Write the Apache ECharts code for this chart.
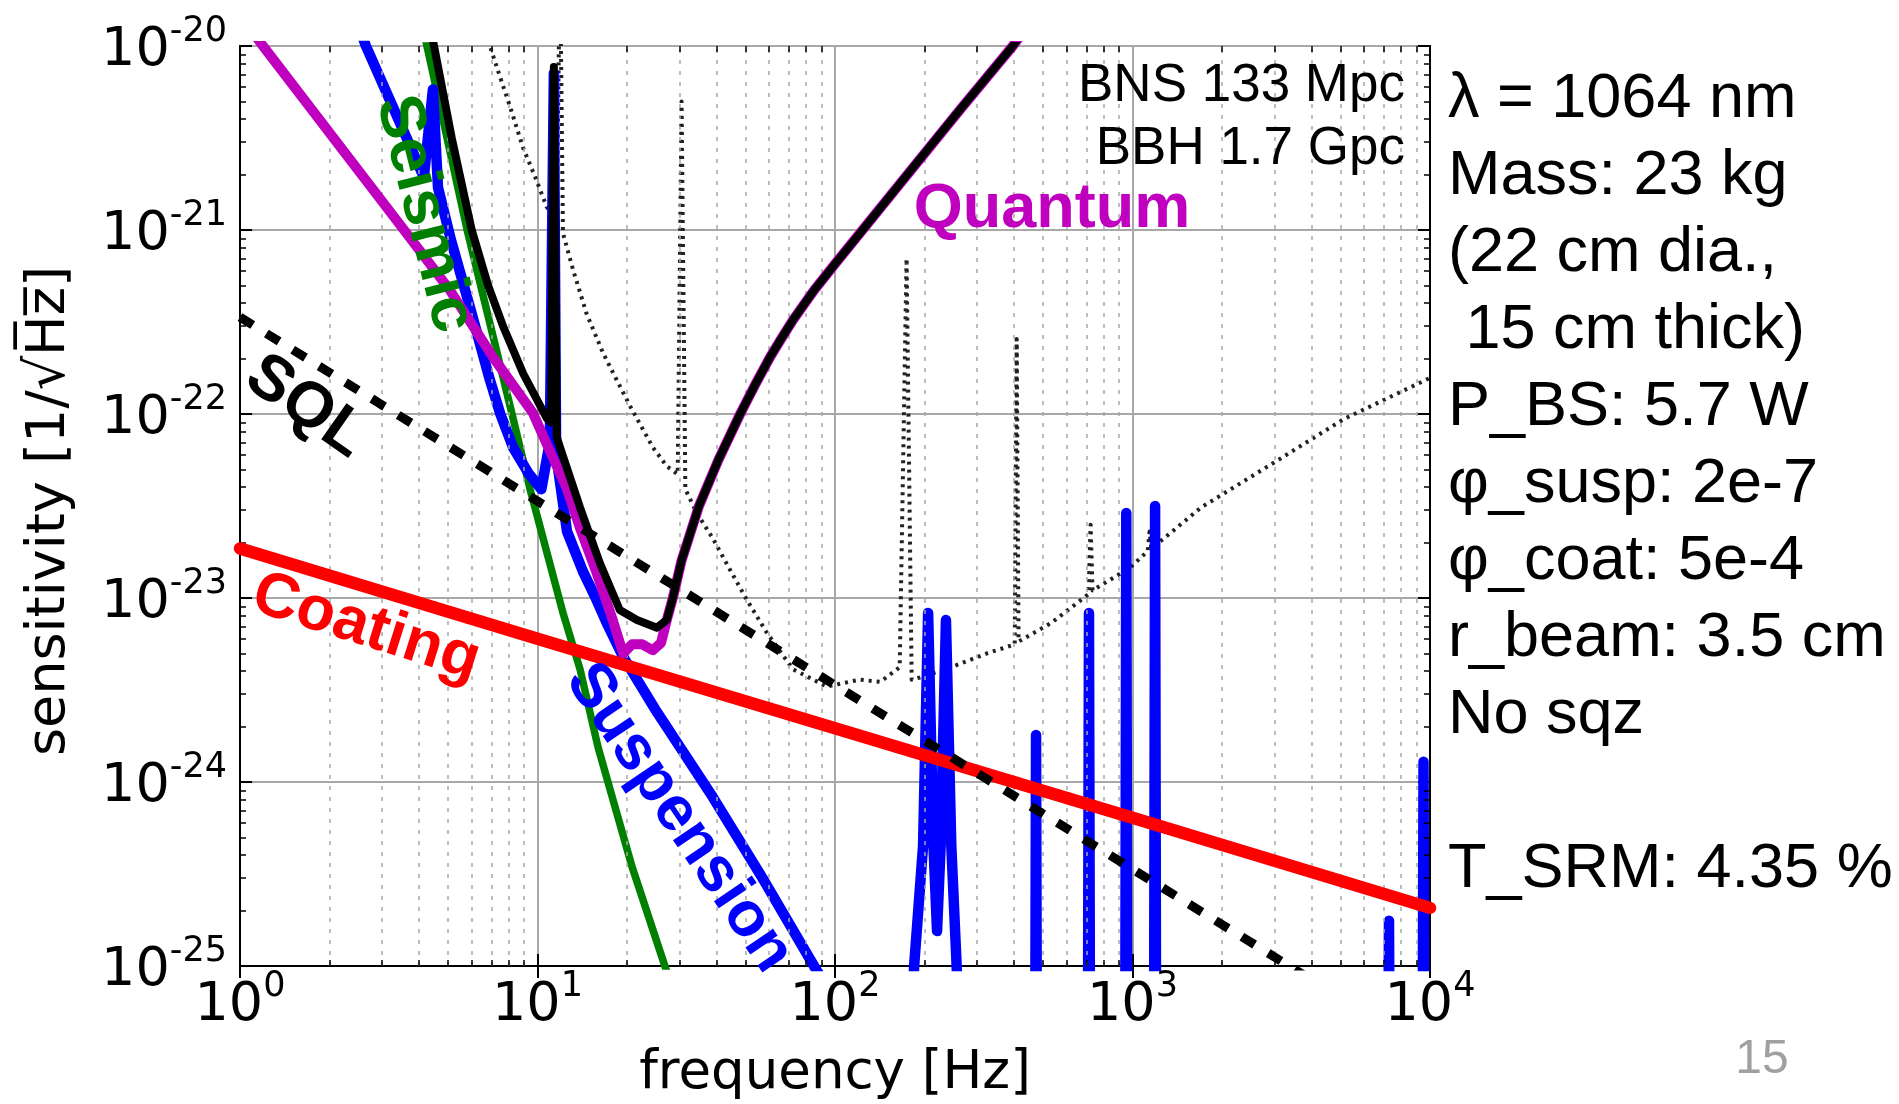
<!DOCTYPE html>
<html>
<head>
<meta charset="utf-8">
<script src="https://cdn.jsdelivr.net/npm/echarts/dist/echarts.min.js"></script>
<style>
html,body{margin:0;padding:0;background:#ffffff;}
#chart{width:1899px;height:1104px;}
</style>
</head>
<body>
<div id="chart"></div>
<script>
// ---------------- data (frequency [Hz], strain [1/rtHz]) ----------------
const seismic = [[4.0,1.6e-20],[4.25,1.0e-20],[5.8,1.0e-21],[8.21,1.0e-22],[9.44,3.9e-23],[10.76,1.76e-23],
  [12.18,8.3e-24],[13.9,4.1e-24],[15.97,1.55e-24],[20.8,3.45e-25],[26.8,1.0e-25],[28.5,7.5e-26]];

const suspension = [[2.5,1.3e-20],[2.65,1.0e-20],[3.56,3.4e-21],[4.15,1.94e-21],[4.45,5.8e-21],[4.63,1.7e-21],
  [5.12,8.8e-22],[5.93,3.8e-22],[6.92,1.53e-22],[7.5,1.0e-22],[8.27,6.6e-23],[9.3,4.8e-23],[10.3,3.9e-23],
  [11.0,7.0e-23],[11.35,7.1e-21],[11.55,6.0e-23],[12.57,2.3e-23],[14.2,1.4e-23],[15.6,1.02e-23],[17.1,7.3e-24],
  [19.4,4.8e-24],[24.8,2.5e-24],[38.8,8.3e-25],[57.1,3.0e-25],[85,1.0e-25],[150,2.2e-26],
  [175,1e-26],[184.5,1.0e-25],[197.7,4.5e-25],[205.6,8.3e-24],[214.3,4.5e-25],[220.3,1.55e-25],[226.5,4.5e-25],
  [236,7.6e-24],[246,4.5e-25],[256.4,1.0e-25],[270,1e-26],
  [470,1e-26],[474,1.8e-24],[478,1e-26],
  [707,1e-26],[714,8.3e-24],[721,1e-26],
  [944,1e-26],[953,2.9e-23],[962,1e-26],
  [1180,1e-26],[1191,3.16e-23],[1202,1e-26],
  [7220,1e-26],[7280,1.76e-25],[7340,1e-26],
  [9430,1e-26],[9510,1.29e-24],[9590,1e-26],[10000,1e-26]];

const coating = [[1,1.86e-23],[10,6.0e-24],[100,1.96e-24],[1000,6.4e-25],[10000,2.07e-25]];

const quantum = [[1.1,1.2e-20],[1.195,1.0e-20],[3.56,1.0e-21],[5.08,4.7e-22],[7.08,2.04e-22],[9.66,1.01e-22],
  [10.6,7.2e-23],[12.5,4.0e-23],[13.9,2.4e-23],[15.8,1.37e-23],[17.9,7.6e-24],[19.4,5.0e-24],[20.8,5.6e-24],
  [22.5,5.6e-24],[24.4,5.2e-24],[26.0,5.7e-24],[27.2,7.6e-24],[28.5,1.0e-23],[30.5,1.6e-23],[34.9,3.16e-23],
  [40.5,5.6e-23],[48,1.0e-22],[54,1.45e-22],[60.5,2.04e-22],[66,2.57e-22],[72.2,3.24e-22],[85,4.7e-22],
  [100.5,6.6e-22],[131,1.12e-21],[179,2.09e-21],[263,4.5e-21],[396,1.0e-20],[430,1.2e-20]];

const total = [[4.3,1.4e-20],[4.49,1.0e-20],[5.15,3.16e-21],[6.01,1.0e-21],[6.82,5.0e-22],[7.66,3.0e-22],
  [8.95,1.66e-22],[10.74,9.5e-23],[11.1,9.0e-23],[11.35,7.7e-21],[11.6,7.5e-23],[11.9,6.6e-23],[13.9,3.1e-23],
  [16.2,1.55e-23],[18.9,8.6e-24],[21.6,7.6e-24],[25.2,6.9e-24],[27.2,7.6e-24],[28.5,1.0e-23],[30.5,1.6e-23],
  [34.9,3.16e-23],[40.5,5.6e-23],[48,1.0e-22],[54,1.45e-22],[60.5,2.04e-22],[66,2.57e-22],[72.2,3.24e-22],
  [85,4.7e-22],[100.5,6.6e-22],[131,1.12e-21],[179,2.09e-21],[263,4.5e-21],[396,1.0e-20],[430,1.2e-20]];

const sql = [[1,3.36e-22],[10,3.36e-23],[100,3.36e-24],[1000,3.36e-25],[10000,3.36e-26]];

const reference = [[6.6,1.3e-20],[6.92,1.0e-20],[7.48,6.8e-21],[8.08,4.7e-21],[8.94,2.8e-21],[9.81,1.95e-21],
  [10.73,1.34e-21],[11.6,1.1e-21],[11.9,3e-20],[12.18,9.6e-22],[13.16,6.1e-22],[14.63,3.5e-22],[16.6,2.15e-22],
  [18.46,1.53e-22],[20.5,1.1e-22],[24.4,6.6e-23],[27.2,5.2e-23],[29.6,4.7e-23],[30.5,5.0e-21],[31.4,3.9e-23],
  [34.3,2.9e-23],[38.9,2.1e-23],[44.4,1.42e-23],[50.5,9.8e-24],[58.9,6.5e-24],[72.2,4.1e-24],[93.8,3.3e-24],
  [121,3.6e-24],[142,3.5e-24],[165,4.2e-24],[174,7.0e-22],[181,3.6e-24],[193,3.7e-24],[245,4.2e-24],
  [324,5.0e-24],[402,5.6e-24],[408,2.56e-22],[414,5.8e-24],[532,7.3e-24],[712,1.05e-23],[723,2.5e-23],
  [734,1.1e-23],[981,1.46e-23],[1125,1.8e-23],[1141,2.3e-23],[1157,1.85e-23],[1698,3.1e-23],[2965,5.4e-23],
  [5140,9.4e-23],[10000,1.57e-22]];

const xRange = [1, 1e4];
const yRange = [1e-25, 1e-20];

const infoLines = ['\u03bb = 1064 nm','Mass: 23 kg','(22 cm dia.,',' 15 cm thick)','P_BS: 5.7 W',
  '\u03c6_susp: 2e-7','\u03c6_coat: 5e-4','r_beam: 3.5 cm','No sqz','','T_SRM: 4.35 %'];
const rangeLines = ['BNS 133 Mpc','BBH 1.7 Gpc'];
const xTitle = 'frequency [Hz]';
const yTitle = 'sensitivity [1/\u221aH\u0305z\u0305]';

// ---------------- helpers ----------------
const minorX = [];
for (let k = 0; k < 4; k++) for (let m = 2; m < 10; m++) minorX.push(m * Math.pow(10, k));
const minorY = [];
for (let k = -25; k < -20; k++) for (let m = 2; m < 10; m++) minorY.push(m * Math.pow(10, k));

const tyF = Math.pow(10, 6 / 184);   // minor tick length along y (log factor)
const txF = Math.pow(10, 6 / 297.5); // minor tick length along x
const minorTickData = [];
minorX.forEach(v => {
  minorTickData.push([{coord:[v, yRange[0]]},{coord:[v, yRange[0]*tyF]}]);
  minorTickData.push([{coord:[v, yRange[1]]},{coord:[v, yRange[1]/tyF]}]);
});
minorY.forEach(v => {
  minorTickData.push([{coord:[xRange[0], v]},{coord:[xRange[0]*txF, v]}]);
  minorTickData.push([{coord:[xRange[1], v]},{coord:[xRange[1]/txF, v]}]);
});

// a hair below the decade so that floating-point log rounding keeps the 10^-25 tick
const yAxisMin = yRange[0] * (1 - 1e-9);

const FONT_AX = 'DejaVu Sans';
const richLabel = {
  b:{fontSize:54, lineHeight:64, verticalAlign:'bottom', fontFamily:FONT_AX, color:'#000'},
  s:{fontSize:35, lineHeight:35, verticalAlign:'top', fontFamily:FONT_AX, color:'#000'}
};
const fmt = v => '{b|10}{s|' + Math.round(Math.log10(v)) + '}';

function curve(name, data, color, width, z, extra) {
  return Object.assign({
    name, type:'line', data, z, showSymbol:false, symbol:'none', silent:true, animation:false, clip:true,
    lineStyle:{color, width, cap:'round', join:'round'}
  }, extra || {});
}

const chart = echarts.init(document.getElementById('chart'));
const option = {
  backgroundColor:'#ffffff',
  animation:false,
  grid:{left:240, right:469, top:46, bottom:138, show:true, borderColor:'#000', borderWidth:2,
        backgroundColor:'transparent', outerBoundsMode:'none', containLabel:false},
  xAxis:[{
    type:'log', logBase:10, min:xRange[0], max:xRange[1], splitNumber:4,
    axisLine:{show:true, lineStyle:{color:'#000', width:2}},
    axisTick:{show:true, inside:true, length:12, lineStyle:{color:'#000', width:2}},
    axisLabel:{show:true, formatter:fmt, rich:richLabel, margin:3, showMinLabel:true, showMaxLabel:true, hideOverlap:false},
    splitLine:{show:true, lineStyle:{color:'#a8a8a8', width:2}},
    minorTick:{show:false}, minorSplitLine:{show:false}
  },{
    type:'log', logBase:10, min:xRange[0], max:xRange[1], splitNumber:4, position:'top',
    axisLine:{show:true, lineStyle:{color:'#000', width:2}},
    axisTick:{show:true, inside:true, length:12, lineStyle:{color:'#000', width:2}},
    axisLabel:{show:false}, splitLine:{show:false}
  }],
  yAxis:[{
    type:'log', logBase:10, min:yAxisMin, max:yRange[1], splitNumber:5,
    axisLine:{show:true, lineStyle:{color:'#000', width:2}},
    axisTick:{show:true, inside:true, length:12, lineStyle:{color:'#000', width:2}},
    axisLabel:{show:true, formatter:fmt, rich:richLabel, margin:13, showMinLabel:true, showMaxLabel:true, hideOverlap:false},
    splitLine:{show:true, lineStyle:{color:'#a8a8a8', width:2}},
    minorTick:{show:false}, minorSplitLine:{show:false}
  },{
    type:'log', logBase:10, min:yAxisMin, max:yRange[1], splitNumber:5, position:'right',
    axisLine:{show:true, lineStyle:{color:'#000', width:2}},
    axisTick:{show:true, inside:true, length:12, lineStyle:{color:'#000', width:2}},
    axisLabel:{show:false}, splitLine:{show:false}
  }],
  series:[
    {type:'line', data:[[1,1e-25]], z:1, silent:true, showSymbol:false, symbol:'none', lineStyle:{opacity:0},
     markLine:{silent:true, symbol:['none','none'], animation:false, label:{show:false},
       emphasis:{disabled:true}, lineStyle:{color:'#a8a8a8', width:1.5, type:[4,7]},
       data:[...minorX.map(v=>({xAxis:v})), ...minorY.map(v=>({yAxis:v}))]}},
    {type:'line', data:[[1,1e-25]], z:9, silent:true, showSymbol:false, symbol:'none', lineStyle:{opacity:0},
     markLine:{silent:true, symbol:['none','none'], animation:false, label:{show:false},
       emphasis:{disabled:true}, lineStyle:{color:'#000', width:1.5, type:'solid'},
       data:minorTickData}},
    curve('Reference', reference, '#222', 4, 2, {lineStyle:{color:'#222', width:4, type:[3,5], cap:'butt', join:'round'}}),
    curve('Seismic', seismic, '#008000', 7.5, 3),
    curve('Suspension', suspension, '#0000ff', 10.5, 4),
    curve('Coating', coating, '#ff0000', 12.5, 5),
    curve('Quantum', quantum, '#bf00bf', 10, 6),
    curve('Total', total, '#000000', 8, 7),
    curve('SQL', sql, '#000000', 9, 8, {lineStyle:{color:'#000', width:9, type:[15,16], cap:'butt'}})
  ],
  graphic:[
    {type:'text', x:1448, y:61, z:100, silent:true,
     style:{text:infoLines.join('\n'), font:'63px "Liberation Sans", Arial, sans-serif', fill:'#000',
            lineHeight:77, align:'left', verticalAlign:'top'}},
    {type:'text', x:1405, y:55, z:100, silent:true,
     style:{text:rangeLines.join('\n'), font:'53px "Liberation Sans", Arial, sans-serif', fill:'#000',
            lineHeight:63, align:'right', verticalAlign:'top'}},
    {type:'text', x:1762, y:1060, z:100, silent:true,
     style:{text:'15', font:'48px "Liberation Sans", Arial, sans-serif', fill:'#a0a0a0', align:'center', verticalAlign:'middle'}},
    {type:'text', x:835, y:1074, z:100, silent:true,
     style:{text:xTitle, font:'53px "DejaVu Sans", sans-serif', fill:'#000', align:'center', verticalAlign:'middle'}},
    {type:'text', x:50, y:511, z:100, silent:true, rotation:Math.PI/2,
     style:{text:yTitle, font:'54px "DejaVu Sans", sans-serif', fill:'#000', align:'center', verticalAlign:'middle'}},
    {type:'text', x:1052, y:210, z:100, silent:true,
     style:{text:'Quantum', font:'bold 63px "Liberation Sans", Arial, sans-serif', fill:'#bf00bf', align:'center', verticalAlign:'middle'}},
    {type:'text', x:424, y:214, z:100, silent:true, rotation:-75.7*Math.PI/180,
     style:{text:'Seismic', font:'bold 64px "Liberation Sans", Arial, sans-serif', fill:'#008000', align:'center', verticalAlign:'middle'}},
    {type:'text', x:306, y:407, z:100, silent:true, rotation:-35*Math.PI/180,
     style:{text:'SQL', font:'bold 64px "Liberation Sans", Arial, sans-serif', fill:'#000', align:'center', verticalAlign:'middle'}},
    {type:'text', x:366, y:628, z:100, silent:true, rotation:-17.5*Math.PI/180,
     style:{text:'Coating', font:'bold 63px "Liberation Sans", Arial, sans-serif', fill:'#ff0000', align:'center', verticalAlign:'middle'}},
    {type:'text', x:679, y:818, z:100, silent:true, rotation:-56*Math.PI/180,
     style:{text:'Suspension', font:'bold 63px "Liberation Sans", Arial, sans-serif', fill:'#0000ff', align:'center', verticalAlign:'middle'}}
  ]
};
chart.setOption(option);
</script>
</body>
</html>
